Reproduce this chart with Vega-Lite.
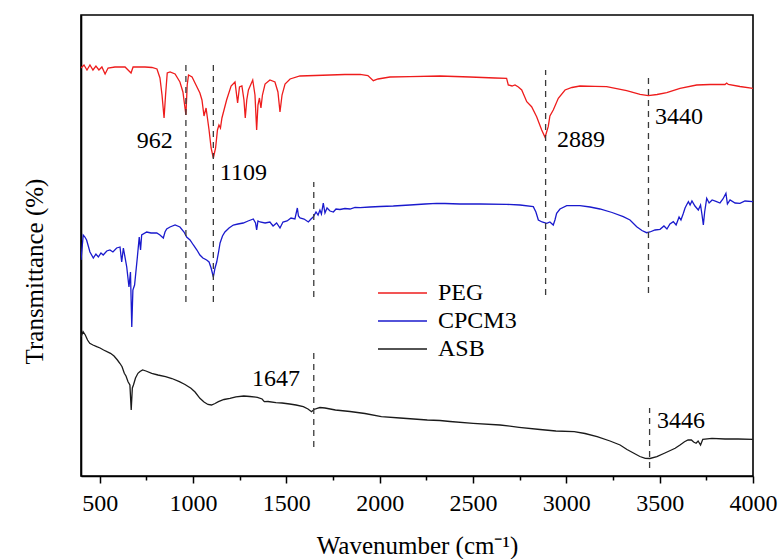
{
"$schema": "https://vega.github.io/schema/vega-lite/v6.json",
"width": 672, "height": 461,
"autosize": "none",
"padding": {"left": 81, "top": 15, "right": 28, "bottom": 83},
"background": "white",
"config": {
 "view": {"stroke": "black", "strokeWidth": 1.6},
 "font": "Liberation Serif"
},
"encoding": {
 "x": {"field": "wn", "type": "quantitative", "scale": {"domain": [400, 4000], "nice": false, "zero": false},
  "axis": {"title": "Wavenumber (cm⁻¹)", "values": [500,750,1000,1250,1500,1750,2000,2250,2500,2750,3000,3250,3500,3750,4000],
   "labelExpr": "datum.value % 500 === 0 ? datum.label : ''", "format": "d",
   "tickSize": {"condition": {"test": "datum.value % 500 === 0", "value": 7}, "value": 4},
   "tickColor": "black", "tickWidth": 1.5, "domainColor": "black", "domainWidth": 1.6, "grid": false,
   "labelFont": "Liberation Serif", "labelFontSize": 24, "labelColor": "black", "labelBaseline": "alphabetic", "labelPadding": 27,
   "labelOverlap": false, "labelFlush": false,
   "titleFont": "Liberation Serif", "titleFontSize": 25, "titleFontWeight": "normal", "titleColor": "black", "titleBaseline": "alphabetic", "titleY": 77}},
 "y": {"field": "t", "type": "quantitative", "scale": {"domain": [0, 461], "nice": false, "zero": false},
  "axis": {"title": "Transmittance (%)", "labels": false, "ticks": false, "grid": false, "domainColor": "black", "domainWidth": 1.6,
   "titleFont": "Liberation Serif", "titleFontSize": 25, "titleFontWeight": "normal", "titleColor": "black",
   "titleX": -47, "titleY": 256, "titleAngle": 270, "titleAlign": "center", "titleBaseline": "middle"}}
},
"layer": [
 {
  "data": {"values": [
{"sample":"PEG","wn":400,"t":408},{"sample":"PEG","wn":416,"t":411},{"sample":"PEG","wn":432,"t":406},{"sample":"PEG","wn":448,"t":411},{"sample":"PEG","wn":464,"t":406},{"sample":"PEG","wn":480,"t":410},{"sample":"PEG","wn":496,"t":406},{"sample":"PEG","wn":512,"t":409},{"sample":"PEG","wn":529,"t":402},{"sample":"PEG","wn":545,"t":408},{"sample":"PEG","wn":582,"t":409},{"sample":"PEG","wn":636,"t":409},{"sample":"PEG","wn":668,"t":403},{"sample":"PEG","wn":679,"t":409},{"sample":"PEG","wn":743,"t":409},{"sample":"PEG","wn":780,"t":408.5},{"sample":"PEG","wn":807,"t":407},{"sample":"PEG","wn":823,"t":398},{"sample":"PEG","wn":834,"t":381},{"sample":"PEG","wn":845,"t":358},{"sample":"PEG","wn":853,"t":381},{"sample":"PEG","wn":862,"t":403},{"sample":"PEG","wn":877,"t":404},{"sample":"PEG","wn":904,"t":402},{"sample":"PEG","wn":930,"t":394},{"sample":"PEG","wn":946,"t":384},{"sample":"PEG","wn":962,"t":361},{"sample":"PEG","wn":969,"t":391},{"sample":"PEG","wn":976,"t":401},{"sample":"PEG","wn":995,"t":399},{"sample":"PEG","wn":1016,"t":391},{"sample":"PEG","wn":1037,"t":383},{"sample":"PEG","wn":1048,"t":376},{"sample":"PEG","wn":1059,"t":360},{"sample":"PEG","wn":1070,"t":368},{"sample":"PEG","wn":1086,"t":346},{"sample":"PEG","wn":1097,"t":328},{"sample":"PEG","wn":1109,"t":318},{"sample":"PEG","wn":1121,"t":328},{"sample":"PEG","wn":1131,"t":346},{"sample":"PEG","wn":1139,"t":351},{"sample":"PEG","wn":1147,"t":348},{"sample":"PEG","wn":1155,"t":358},{"sample":"PEG","wn":1180,"t":376},{"sample":"PEG","wn":1204,"t":390},{"sample":"PEG","wn":1225,"t":394},{"sample":"PEG","wn":1239,"t":373},{"sample":"PEG","wn":1249,"t":389},{"sample":"PEG","wn":1262,"t":390},{"sample":"PEG","wn":1273,"t":376},{"sample":"PEG","wn":1280,"t":358},{"sample":"PEG","wn":1288,"t":376},{"sample":"PEG","wn":1297,"t":386},{"sample":"PEG","wn":1320,"t":396},{"sample":"PEG","wn":1332,"t":381},{"sample":"PEG","wn":1341,"t":346},{"sample":"PEG","wn":1348,"t":371},{"sample":"PEG","wn":1356,"t":378},{"sample":"PEG","wn":1364,"t":368},{"sample":"PEG","wn":1372,"t":381},{"sample":"PEG","wn":1386,"t":392},{"sample":"PEG","wn":1412,"t":396},{"sample":"PEG","wn":1439,"t":394},{"sample":"PEG","wn":1455,"t":384},{"sample":"PEG","wn":1466,"t":364},{"sample":"PEG","wn":1477,"t":381},{"sample":"PEG","wn":1493,"t":392},{"sample":"PEG","wn":1520,"t":397},{"sample":"PEG","wn":1573,"t":400},{"sample":"PEG","wn":1654,"t":400.5},{"sample":"PEG","wn":1734,"t":401},{"sample":"PEG","wn":1814,"t":401.5},{"sample":"PEG","wn":1895,"t":401.7},{"sample":"PEG","wn":1937,"t":400.5},{"sample":"PEG","wn":1966,"t":395.3},{"sample":"PEG","wn":1991,"t":397},{"sample":"PEG","wn":2055,"t":399},{"sample":"PEG","wn":2163,"t":399.3},{"sample":"PEG","wn":2323,"t":400},{"sample":"PEG","wn":2484,"t":399},{"sample":"PEG","wn":2618,"t":398},{"sample":"PEG","wn":2680,"t":397.7},{"sample":"PEG","wn":2689,"t":391},{"sample":"PEG","wn":2709,"t":390},{"sample":"PEG","wn":2725,"t":391},{"sample":"PEG","wn":2743,"t":389},{"sample":"PEG","wn":2761,"t":386},{"sample":"PEG","wn":2788,"t":374.3},{"sample":"PEG","wn":2814,"t":369.3},{"sample":"PEG","wn":2841,"t":359.3},{"sample":"PEG","wn":2868,"t":346},{"sample":"PEG","wn":2886,"t":338.7},{"sample":"PEG","wn":2903,"t":349.3},{"sample":"PEG","wn":2912,"t":360},{"sample":"PEG","wn":2930,"t":366},{"sample":"PEG","wn":2957,"t":377.7},{"sample":"PEG","wn":2993,"t":386},{"sample":"PEG","wn":3030,"t":388.5},{"sample":"PEG","wn":3073,"t":390},{"sample":"PEG","wn":3154,"t":389.7},{"sample":"PEG","wn":3216,"t":389.3},{"sample":"PEG","wn":3323,"t":385.3},{"sample":"PEG","wn":3395,"t":381.7},{"sample":"PEG","wn":3439,"t":380.3},{"sample":"PEG","wn":3486,"t":381.5},{"sample":"PEG","wn":3538,"t":383.3},{"sample":"PEG","wn":3609,"t":387.7},{"sample":"PEG","wn":3698,"t":391},{"sample":"PEG","wn":3770,"t":391.5},{"sample":"PEG","wn":3850,"t":391.5},{"sample":"PEG","wn":3859,"t":393},{"sample":"PEG","wn":3868,"t":391.5},{"sample":"PEG","wn":3930,"t":389.5},{"sample":"PEG","wn":4000,"t":387.7},
{"sample":"CPCM3","wn":400,"t":216},{"sample":"CPCM3","wn":412,"t":241},{"sample":"CPCM3","wn":421,"t":239},{"sample":"CPCM3","wn":430,"t":236},{"sample":"CPCM3","wn":448,"t":224},{"sample":"CPCM3","wn":466,"t":218},{"sample":"CPCM3","wn":480,"t":222},{"sample":"CPCM3","wn":493,"t":219},{"sample":"CPCM3","wn":507,"t":223},{"sample":"CPCM3","wn":519,"t":221},{"sample":"CPCM3","wn":538,"t":225},{"sample":"CPCM3","wn":555,"t":226},{"sample":"CPCM3","wn":571,"t":224},{"sample":"CPCM3","wn":591,"t":228},{"sample":"CPCM3","wn":609,"t":229},{"sample":"CPCM3","wn":618,"t":214},{"sample":"CPCM3","wn":627,"t":228},{"sample":"CPCM3","wn":645,"t":209},{"sample":"CPCM3","wn":657,"t":189},{"sample":"CPCM3","wn":665,"t":204},{"sample":"CPCM3","wn":672,"t":149},{"sample":"CPCM3","wn":678,"t":186},{"sample":"CPCM3","wn":687,"t":191},{"sample":"CPCM3","wn":702,"t":219},{"sample":"CPCM3","wn":712,"t":239},{"sample":"CPCM3","wn":719,"t":226},{"sample":"CPCM3","wn":725,"t":241},{"sample":"CPCM3","wn":752,"t":244},{"sample":"CPCM3","wn":775,"t":243},{"sample":"CPCM3","wn":806,"t":243},{"sample":"CPCM3","wn":823,"t":241},{"sample":"CPCM3","wn":841,"t":238},{"sample":"CPCM3","wn":850,"t":244},{"sample":"CPCM3","wn":859,"t":247},{"sample":"CPCM3","wn":877,"t":249},{"sample":"CPCM3","wn":904,"t":251},{"sample":"CPCM3","wn":930,"t":249},{"sample":"CPCM3","wn":952,"t":244},{"sample":"CPCM3","wn":966,"t":239},{"sample":"CPCM3","wn":984,"t":236},{"sample":"CPCM3","wn":1002,"t":231},{"sample":"CPCM3","wn":1021,"t":226},{"sample":"CPCM3","wn":1037,"t":221},{"sample":"CPCM3","wn":1053,"t":218},{"sample":"CPCM3","wn":1073,"t":216},{"sample":"CPCM3","wn":1086,"t":214},{"sample":"CPCM3","wn":1097,"t":208},{"sample":"CPCM3","wn":1109,"t":199},{"sample":"CPCM3","wn":1118,"t":208},{"sample":"CPCM3","wn":1127,"t":214},{"sample":"CPCM3","wn":1137,"t":224},{"sample":"CPCM3","wn":1145,"t":233},{"sample":"CPCM3","wn":1158,"t":240},{"sample":"CPCM3","wn":1171,"t":244},{"sample":"CPCM3","wn":1193,"t":248},{"sample":"CPCM3","wn":1216,"t":251},{"sample":"CPCM3","wn":1241,"t":252},{"sample":"CPCM3","wn":1269,"t":253},{"sample":"CPCM3","wn":1295,"t":255},{"sample":"CPCM3","wn":1323,"t":257},{"sample":"CPCM3","wn":1335,"t":253},{"sample":"CPCM3","wn":1341,"t":246},{"sample":"CPCM3","wn":1348,"t":255},{"sample":"CPCM3","wn":1359,"t":254},{"sample":"CPCM3","wn":1386,"t":253},{"sample":"CPCM3","wn":1412,"t":254},{"sample":"CPCM3","wn":1429,"t":250},{"sample":"CPCM3","wn":1448,"t":253},{"sample":"CPCM3","wn":1466,"t":248},{"sample":"CPCM3","wn":1482,"t":254},{"sample":"CPCM3","wn":1504,"t":255},{"sample":"CPCM3","wn":1525,"t":258},{"sample":"CPCM3","wn":1546,"t":257},{"sample":"CPCM3","wn":1559,"t":268},{"sample":"CPCM3","wn":1565,"t":260},{"sample":"CPCM3","wn":1573,"t":258},{"sample":"CPCM3","wn":1595,"t":257},{"sample":"CPCM3","wn":1618,"t":254},{"sample":"CPCM3","wn":1632,"t":257},{"sample":"CPCM3","wn":1644,"t":259},{"sample":"CPCM3","wn":1659,"t":264},{"sample":"CPCM3","wn":1670,"t":261},{"sample":"CPCM3","wn":1680,"t":266},{"sample":"CPCM3","wn":1688,"t":262},{"sample":"CPCM3","wn":1698,"t":273},{"sample":"CPCM3","wn":1707,"t":263},{"sample":"CPCM3","wn":1718,"t":268},{"sample":"CPCM3","wn":1734,"t":265},{"sample":"CPCM3","wn":1752,"t":264},{"sample":"CPCM3","wn":1766,"t":267},{"sample":"CPCM3","wn":1787,"t":266.5},{"sample":"CPCM3","wn":1814,"t":267.5},{"sample":"CPCM3","wn":1841,"t":267},{"sample":"CPCM3","wn":1868,"t":268.5},{"sample":"CPCM3","wn":1895,"t":268.3},{"sample":"CPCM3","wn":1948,"t":269},{"sample":"CPCM3","wn":2002,"t":269.5},{"sample":"CPCM3","wn":2073,"t":270},{"sample":"CPCM3","wn":2162,"t":271},{"sample":"CPCM3","wn":2243,"t":272},{"sample":"CPCM3","wn":2305,"t":272.7},{"sample":"CPCM3","wn":2350,"t":272.5},{"sample":"CPCM3","wn":2430,"t":272},{"sample":"CPCM3","wn":2537,"t":272},{"sample":"CPCM3","wn":2680,"t":271.7},{"sample":"CPCM3","wn":2752,"t":271},{"sample":"CPCM3","wn":2823,"t":269.3},{"sample":"CPCM3","wn":2837,"t":264},{"sample":"CPCM3","wn":2850,"t":256},{"sample":"CPCM3","wn":2870,"t":254},{"sample":"CPCM3","wn":2895,"t":252.7},{"sample":"CPCM3","wn":2912,"t":254},{"sample":"CPCM3","wn":2930,"t":251},{"sample":"CPCM3","wn":2939,"t":256},{"sample":"CPCM3","wn":2948,"t":262.7},{"sample":"CPCM3","wn":2966,"t":267},{"sample":"CPCM3","wn":3002,"t":270.3},{"sample":"CPCM3","wn":3073,"t":270.3},{"sample":"CPCM3","wn":3127,"t":269},{"sample":"CPCM3","wn":3180,"t":267},{"sample":"CPCM3","wn":3245,"t":263.5},{"sample":"CPCM3","wn":3305,"t":259.3},{"sample":"CPCM3","wn":3341,"t":256},{"sample":"CPCM3","wn":3377,"t":249.3},{"sample":"CPCM3","wn":3405,"t":245.5},{"sample":"CPCM3","wn":3430,"t":243.3},{"sample":"CPCM3","wn":3448,"t":244},{"sample":"CPCM3","wn":3475,"t":246},{"sample":"CPCM3","wn":3502,"t":246.7},{"sample":"CPCM3","wn":3523,"t":250},{"sample":"CPCM3","wn":3539,"t":247},{"sample":"CPCM3","wn":3555,"t":252},{"sample":"CPCM3","wn":3573,"t":254.3},{"sample":"CPCM3","wn":3588,"t":251},{"sample":"CPCM3","wn":3604,"t":259},{"sample":"CPCM3","wn":3614,"t":256},{"sample":"CPCM3","wn":3627,"t":262.7},{"sample":"CPCM3","wn":3636,"t":268},{"sample":"CPCM3","wn":3644,"t":271},{"sample":"CPCM3","wn":3654,"t":274.3},{"sample":"CPCM3","wn":3663,"t":271},{"sample":"CPCM3","wn":3673,"t":275},{"sample":"CPCM3","wn":3689,"t":270},{"sample":"CPCM3","wn":3707,"t":266},{"sample":"CPCM3","wn":3719,"t":271},{"sample":"CPCM3","wn":3727,"t":261},{"sample":"CPCM3","wn":3734,"t":251},{"sample":"CPCM3","wn":3741,"t":264},{"sample":"CPCM3","wn":3752,"t":277.7},{"sample":"CPCM3","wn":3765,"t":273},{"sample":"CPCM3","wn":3781,"t":276},{"sample":"CPCM3","wn":3805,"t":274.3},{"sample":"CPCM3","wn":3823,"t":273},{"sample":"CPCM3","wn":3839,"t":277},{"sample":"CPCM3","wn":3855,"t":282.7},{"sample":"CPCM3","wn":3863,"t":272},{"sample":"CPCM3","wn":3877,"t":276},{"sample":"CPCM3","wn":3904,"t":273},{"sample":"CPCM3","wn":3930,"t":272.7},{"sample":"CPCM3","wn":3957,"t":275},{"sample":"CPCM3","wn":4000,"t":274.3},
{"sample":"ASB","wn":400,"t":139.3},{"sample":"ASB","wn":411,"t":144.3},{"sample":"ASB","wn":423,"t":141},{"sample":"ASB","wn":435,"t":136},{"sample":"ASB","wn":447,"t":132.7},{"sample":"ASB","wn":464,"t":131},{"sample":"ASB","wn":484,"t":129.3},{"sample":"ASB","wn":502,"t":128},{"sample":"ASB","wn":521,"t":126},{"sample":"ASB","wn":558,"t":122.7},{"sample":"ASB","wn":577,"t":120},{"sample":"ASB","wn":595,"t":116},{"sample":"ASB","wn":609,"t":112.5},{"sample":"ASB","wn":620,"t":109.3},{"sample":"ASB","wn":632,"t":102.7},{"sample":"ASB","wn":641,"t":100},{"sample":"ASB","wn":652,"t":94.3},{"sample":"ASB","wn":662,"t":91},{"sample":"ASB","wn":669,"t":66},{"sample":"ASB","wn":675,"t":88},{"sample":"ASB","wn":681,"t":91},{"sample":"ASB","wn":692,"t":98},{"sample":"ASB","wn":705,"t":102.7},{"sample":"ASB","wn":716,"t":104.5},{"sample":"ASB","wn":730,"t":106},{"sample":"ASB","wn":748,"t":105},{"sample":"ASB","wn":779,"t":102.7},{"sample":"ASB","wn":812,"t":101},{"sample":"ASB","wn":853,"t":99.3},{"sample":"ASB","wn":887,"t":97.5},{"sample":"ASB","wn":927,"t":94.3},{"sample":"ASB","wn":957,"t":91.5},{"sample":"ASB","wn":989,"t":87.7},{"sample":"ASB","wn":1011,"t":84},{"sample":"ASB","wn":1037,"t":77.7},{"sample":"ASB","wn":1059,"t":74},{"sample":"ASB","wn":1080,"t":71.5},{"sample":"ASB","wn":1099,"t":71},{"sample":"ASB","wn":1118,"t":72.5},{"sample":"ASB","wn":1136,"t":74.3},{"sample":"ASB","wn":1166,"t":76.5},{"sample":"ASB","wn":1198,"t":77.7},{"sample":"ASB","wn":1230,"t":79.2},{"sample":"ASB","wn":1272,"t":80},{"sample":"ASB","wn":1305,"t":79.5},{"sample":"ASB","wn":1345,"t":78.7},{"sample":"ASB","wn":1370,"t":77},{"sample":"ASB","wn":1382,"t":74.3},{"sample":"ASB","wn":1402,"t":74.5},{"sample":"ASB","wn":1444,"t":73.3},{"sample":"ASB","wn":1477,"t":73},{"sample":"ASB","wn":1518,"t":72},{"sample":"ASB","wn":1552,"t":71},{"sample":"ASB","wn":1591,"t":69.3},{"sample":"ASB","wn":1616,"t":67},{"sample":"ASB","wn":1635,"t":64.3},{"sample":"ASB","wn":1648,"t":66.5},{"sample":"ASB","wn":1665,"t":67.7},{"sample":"ASB","wn":1680,"t":68.5},{"sample":"ASB","wn":1707,"t":68},{"sample":"ASB","wn":1763,"t":66},{"sample":"ASB","wn":1841,"t":64.5},{"sample":"ASB","wn":1921,"t":62.5},{"sample":"ASB","wn":2009,"t":59.3},{"sample":"ASB","wn":2109,"t":58},{"sample":"ASB","wn":2255,"t":56},{"sample":"ASB","wn":2323,"t":55.5},{"sample":"ASB","wn":2377,"t":54.5},{"sample":"ASB","wn":2501,"t":52.7},{"sample":"ASB","wn":2645,"t":51},{"sample":"ASB","wn":2747,"t":48.7},{"sample":"ASB","wn":2859,"t":46.5},{"sample":"ASB","wn":2944,"t":45},{"sample":"ASB","wn":3042,"t":44.3},{"sample":"ASB","wn":3100,"t":42.5},{"sample":"ASB","wn":3165,"t":39.3},{"sample":"ASB","wn":3234,"t":35},{"sample":"ASB","wn":3288,"t":31},{"sample":"ASB","wn":3325,"t":26.5},{"sample":"ASB","wn":3362,"t":22.7},{"sample":"ASB","wn":3394,"t":19.5},{"sample":"ASB","wn":3423,"t":17.7},{"sample":"ASB","wn":3448,"t":17.5},{"sample":"ASB","wn":3485,"t":19.3},{"sample":"ASB","wn":3528,"t":23},{"sample":"ASB","wn":3583,"t":27.7},{"sample":"ASB","wn":3609,"t":31},{"sample":"ASB","wn":3633,"t":34.3},{"sample":"ASB","wn":3652,"t":36},{"sample":"ASB","wn":3670,"t":36},{"sample":"ASB","wn":3682,"t":34},{"sample":"ASB","wn":3695,"t":32.7},{"sample":"ASB","wn":3706,"t":35},{"sample":"ASB","wn":3719,"t":31},{"sample":"ASB","wn":3731,"t":36.7},{"sample":"ASB","wn":3780,"t":37.7},{"sample":"ASB","wn":3850,"t":37},{"sample":"ASB","wn":3920,"t":37},{"sample":"ASB","wn":4000,"t":36.7}
  ]},
  "mark": {"type": "line", "strokeWidth": 1.3, "clip": true},
  "encoding": {
   "color": {"field": "sample", "type": "nominal",
    "scale": {"domain": ["PEG", "CPCM3", "ASB"], "range": ["#ee1c1c", "#1a1acd", "#1a1a1a"]},
    "legend": {"orient": "none", "legendX": 296, "legendY": 266, "title": null, "padding": 0,
     "symbolType": "stroke", "symbolSize": 2400, "symbolStrokeWidth": 1.6, "clipHeight": 24,
     "labelFont": "Liberation Serif", "labelFontSize": 24, "labelColor": "black", "labelOffset": 10, "rowPadding": 4}}
  }
 },
 {
  "data": {"values": [
   {"wn": 962, "t": 174, "t2": 411},
   {"wn": 1109, "t": 174, "t2": 411},
   {"wn": 1647, "t": 179, "t2": 294},
   {"wn": 1647, "t": 29, "t2": 123},
   {"wn": 2889, "t": 181, "t2": 406},
   {"wn": 3440, "t": 183, "t2": 401},
   {"wn": 3446, "t": 8, "t2": 68}
  ]},
  "mark": {"type": "rule", "color": "#3a3a3a", "strokeWidth": 1.3, "strokeDash": [6, 5]},
  "encoding": {"y2": {"field": "t2"}}
 },
 {
  "data": {"values": [
   {"label": "962", "wn": 795, "t": 335},
   {"label": "1109", "wn": 1270, "t": 303.5},
   {"label": "2889", "wn": 3078, "t": 336},
   {"label": "3440", "wn": 3603, "t": 359},
   {"label": "1647", "wn": 1445, "t": 97.5},
   {"label": "3446", "wn": 3614, "t": 55}
  ]},
  "mark": {"type": "text", "font": "Liberation Serif", "fontSize": 24, "color": "black", "align": "center", "baseline": "middle"},
  "encoding": {"text": {"field": "label", "type": "nominal"}}
 }
]
}
